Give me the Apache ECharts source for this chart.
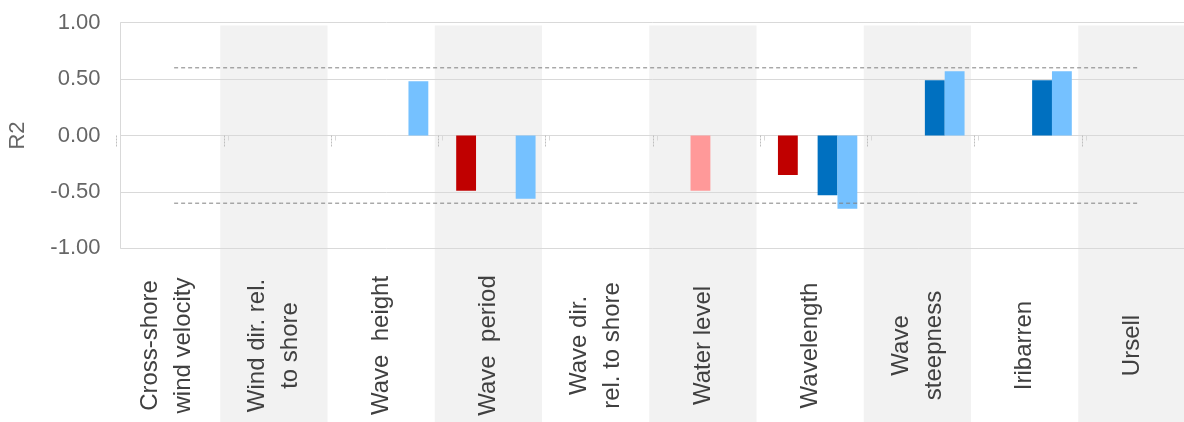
<!DOCTYPE html>
<html>
<head>
<meta charset="utf-8">
<script src="https://cdn.jsdelivr.net/npm/echarts@6/dist/echarts.min.js"></script>
<style>
  html, body { margin: 0; padding: 0; background: #ffffff; }
  #chart { width: 1184px; height: 422px; }
</style>
</head>
<body>
<div id="chart"></div>
<script>
// Explanatory variables along the x axis
const categories = [
  'Cross-shore\nwind velocity',
  'Wind dir. rel.\nto shore',
  'Wave  height',
  'Wave  period',
  'Wave dir.\nrel. to shore',
  'Water level',
  'Wavelength',
  'Wave\nsteepness',
  'Iribarren',
  'Ursell'
];

// Alternate columns get a light grey background band
const shadedColumns = [0, 1, 0, 1, 0, 1, 0, 1, 0, 1];

// R2 values of the four correlation sets (null = no bar)
const setDarkRed   = [null, null, null, -0.49, null, null, -0.35, null, null, null];
const setLightRed  = [null, null, null, null, null, -0.49, null, null, null, null];
const setDarkBlue  = [null, null, null, null, null, null, -0.53, 0.49, 0.49, null];
const setLightBlue = [null, null, 0.48, -0.56, null, null, -0.65, 0.57, 0.57, null];

// Significance thresholds
const upperLimit = [0.6, 0.6, 0.6, 0.6, 0.6, 0.6, 0.6, 0.6, 0.6, 0.6];
const lowerLimit = [-0.6, -0.6, -0.6, -0.6, -0.6, -0.6, -0.6, -0.6, -0.6, -0.6];

// Value axis range and step
const yMin = -1, yMax = 1, yStep = 0.5;

const plotLeft = 120.5, plotWidth = 1072.5, plotTop = 22.7, plotHeight = 225.6;
const gridColor = '#D9D9D9';
const font = '"Liberation Sans", Arial, sans-serif';

const chart = echarts.init(document.getElementById('chart'), null, { renderer: 'canvas' });

function barSeries(name, data, color) {
  return {
    name: name,
    type: 'bar',
    xAxisIndex: 0,
    yAxisIndex: 0,
    data: data,
    barGap: '0%',
    barCategoryGap: '26%',
    itemStyle: { color: color },
    z: 2,
    silent: true
  };
}

function limitSeries(name, data) {
  return {
    name: name,
    type: 'line',
    xAxisIndex: 0,
    yAxisIndex: 0,
    data: data,
    symbol: 'none',
    lineStyle: { color: '#808080', width: 1, type: [4, 3] },
    z: 4,
    silent: true
  };
}

chart.setOption({
  animation: false,
  backgroundColor: '#ffffff',
  textStyle: { fontFamily: font },
  grid: [
    // main plot area
    { left: plotLeft, width: plotWidth, top: plotTop, height: plotHeight, outerBoundsMode: 'none' },
    // background bands and category labels
    { left: plotLeft - 7.5, width: plotWidth, top: 25.5, height: 422 - 25.5, outerBoundsMode: 'none' },
    // tick marks along the bottom edge
    { left: plotLeft - 4, width: plotWidth, top: plotTop, height: plotHeight, outerBoundsMode: 'none' }
  ],
  xAxis: [
    {
      type: 'category',
      gridIndex: 0,
      data: categories,
      z: 1,
      axisLine: { show: true, onZero: true, lineStyle: { color: gridColor, width: 1 } },
      axisTick: { show: true, length: 5, lineStyle: { color: gridColor } },
      axisLabel: { show: false },
      splitLine: { show: false }
    },
    {
      type: 'category',
      gridIndex: 1,
      position: 'top',
      data: categories,
      z: 1,
      axisLine: { show: false },
      axisTick: { show: false },
      splitLine: { show: false },
      axisLabel: {
        show: true,
        inside: true,
        interval: 0,
        rotate: 90,
        margin: 320,
        align: 'center',
        verticalAlign: 'middle',
        fontSize: 24,
        lineHeight: 33,
        color: '#404040',
        fontFamily: font
      }
    },
    {
      type: 'category',
      gridIndex: 2,
      position: 'bottom',
      data: categories,
      offset: -5.5,
      z: 1,
      axisLine: { show: false },
      axisTick: { show: true, length: 11, lineStyle: { color: '#BFBFBF', type: [2, 1] } },
      axisLabel: { show: false },
      splitLine: { show: false }
    }
  ],
  yAxis: [
    {
      type: 'value',
      gridIndex: 0,
      min: yMin,
      max: yMax,
      interval: yStep,
      z: 1,
      name: 'R2',
      nameLocation: 'middle',
      nameGap: 92,
      nameRotate: 90,
      nameTextStyle: { fontSize: 22, color: '#666666', fontFamily: font },
      axisLine: { show: true, onZero: false, lineStyle: { color: gridColor, width: 1 } },
      axisTick: { show: false },
      splitLine: { show: true, lineStyle: { color: gridColor, width: 1 } },
      axisLabel: {
        fontSize: 22,
        color: '#666666',
        margin: 20,
        fontFamily: font,
        formatter: function (v) { return v.toFixed(2); }
      }
    },
    { type: 'value', gridIndex: 1, min: 0, max: 1, show: false },
    { type: 'value', gridIndex: 2, min: yMin, max: yMax, show: false }
  ],
  series: [
    {
      name: 'bands',
      type: 'bar',
      xAxisIndex: 1,
      yAxisIndex: 1,
      data: shadedColumns,
      barCategoryGap: '0%',
      itemStyle: { color: '#F2F2F2' },
      z: 0,
      silent: true
    },
    barSeries('Set 1', setDarkRed, '#C00000'),
    barSeries('Set 2', setLightRed, '#FF9999'),
    barSeries('Set 3', setDarkBlue, '#0070C0'),
    barSeries('Set 4', setLightBlue, '#75C1FF'),
    limitSeries('Upper limit', upperLimit),
    limitSeries('Lower limit', lowerLimit)
  ]
});
</script>
</body>
</html>
